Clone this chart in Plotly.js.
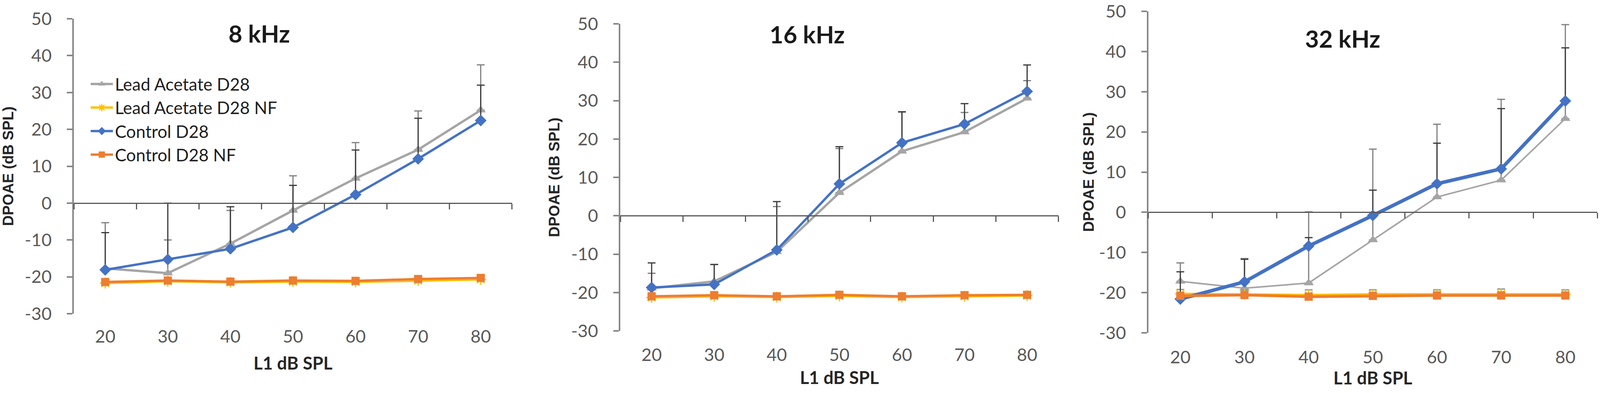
<!DOCTYPE html>
<html>
<head>
<meta charset="utf-8">
<script src="https://cdn.plot.ly/plotly-3.0.1.min.js"></script>
<style>body{margin:0;background:#fff;overflow:hidden}</style>
</head>
<body>
<div id="grafico"></div>
<script>
// niveles L1 (dB SPL)
var niveles = [20, 30, 40, 50, 60, 70, 80];
var yTicks = [-30, -20, -10, 0, 10, 20, 30, 40, 50];
var yEtiquetas = ['-30', '-20', '-10', '0', '10', '20', '30', '40', '50'];
var titulos = ['8 kHz', '16 kHz', '32 kHz'];
var nombres = ['Lead Acetate D28', 'Lead Acetate D28 NF', 'Control D28', 'Control D28 NF'];
var sinError = [0, 0, 0, 0, 0, 0, 0];

// 8 kHz
var plomo8 = [-17.7, -19.0, -11.0, -2.0, 6.7, 14.5, 25.2];
var plomo8Err = [12.4, 9.0, 9.0, 9.4, 9.7, 10.5, 12.3];
var plomoNF8 = [-21.7, -21.2, -21.5, -21.3, -21.4, -21.0, -20.7];
var control8 = [-18.1, -15.3, -12.4, -6.6, 2.3, 12.0, 22.4];
var control8Err = [10.1, 15.3, 11.4, 11.4, 12.1, 11.0, 9.6];
var controlNF8 = [-21.4, -21.0, -21.3, -21.0, -21.1, -20.6, -20.3];

// 16 kHz
var plomo16 = [-18.9, -17.1, -9.4, 6.0, 16.8, 21.8, 30.6];
var plomo16Err = [3.9, 4.4, 11.8, 11.5, 10.2, 5.1, 4.6];
var plomoNF16 = [-21.3, -21.0, -21.2, -20.9, -21.2, -21.0, -20.8];
var control16 = [-18.7, -17.9, -8.9, 8.3, 19.0, 23.9, 32.4];
var control16Err = [6.4, 5.2, 12.6, 9.7, 8.1, 5.3, 6.9];
var controlNF16 = [-21.0, -20.7, -21.0, -20.6, -21.0, -20.7, -20.6];

// 32 kHz
var plomo32 = [-17.2, -18.9, -17.6, -6.9, 3.8, 8.0, 23.3];
var plomo32Err = [4.6, 7.4, 17.7, 22.6, 18.1, 20.1, 23.4];
var plomoNF32 = [-20.3, -20.4, -20.6, -20.4, -20.4, -20.3, -20.4];
var plomoNF32Err = [1.1, 1.0, 1.3, 1.1, 1.1, 1.2, 1.1];
var control32 = [-21.6, -17.3, -8.4, -0.8, 7.1, 10.8, 27.7];
var control32Err = [6.8, 5.6, 2.1, 6.3, 10.1, 15.0, 13.2];
var controlNF32 = [-20.8, -20.6, -21.0, -20.8, -20.7, -20.7, -20.7];

// medidas pensadas para 4328x1006, se ajustan a la ventana real
var W0 = 4328, H0 = 1006;
var W = window.innerWidth || W0, H = window.innerHeight || H0;
var kx = W / W0, ky = H / H0;
function fs(n) { return Math.round(n * kx); }
var fuente = 'Lato, "Open Sans", sans-serif';

// caja de cada panel en px: izq, der, arriba(50), abajo(-30), centro etiquetas x, titulos
var cajas = [
  {x0: 200, x1: 1385, yt: 48, yb: 803, lab: 867, xst: 28, yst: 20, cx: 701, cy: 86},
  {x0: 1678, x1: 2863, yt: 61, yb: 847, lab: 914, xst: 18, yst: 20, cx: 2184, cy: 87},
  {x0: 3106, x1: 4321, yt: 29, yb: 852, lab: 920, xst: 12, yst: 2, cx: 3632, cy: 98}
];

function errores(arr, color) {
  if (!arr) return {visible: false};
  return {type: 'data', symmetric: false, array: arr, arrayminus: sinError,
    color: color, thickness: 3, width: fs(11)};
}

function panel(n, plomo, plomoErr, plomoNF, plomoNFErr, control, controlErr, controlNF, anchos) {
  var s = n === 1 ? '' : String(n);
  var base = {x: niveles, xaxis: 'x' + s, yaxis: 'y' + s, mode: 'lines+markers',
    showlegend: n === 1, hoverinfo: 'skip'};
  return [
    Object.assign({}, base, {y: plomo, name: nombres[0], legendgroup: 'a',
      line: {color: '#A5A5A5', width: anchos[0]},
      marker: {symbol: 'triangle-up', size: fs(24), color: '#A5A5A5'},
      error_y: errores(plomoErr, '#7f7f7f')}),
    Object.assign({}, base, {y: plomoNF, name: nombres[1], legendgroup: 'b',
      line: {color: '#FFC000', width: anchos[1]},
      marker: {symbol: 'asterisk-open', size: fs(24), color: '#FFC000', line: {color: '#FFC000', width: 3}},
      error_y: errores(plomoNFErr, '#8c8c8c')}),
    Object.assign({}, base, {y: control, name: nombres[2], legendgroup: 'c',
      line: {color: '#4472C4', width: anchos[2]},
      marker: {symbol: 'diamond', size: fs(24), color: '#4472C4'},
      error_y: errores(controlErr, '#3a3a3a')}),
    Object.assign({}, base, {y: controlNF, name: nombres[3], legendgroup: 'd',
      line: {color: '#ED7D31', width: anchos[3]},
      marker: {symbol: 'square', size: fs(22), color: '#ED7D31'}})
  ];
}

var data = []
  .concat(panel(1, plomo8, plomo8Err, plomoNF8, null, control8, control8Err, controlNF8, [6, 6, 6, 6]))
  .concat(panel(2, plomo16, plomo16Err, plomoNF16, null, control16, control16Err, controlNF16, [6, 6, 6, 6]))
  .concat(panel(3, plomo32, plomo32Err, plomoNF32, plomoNF32Err, control32, control32Err, controlNF32, [4, 6, 9, 7]));

var layout = {
  width: W, height: H,
  margin: {l: 0, r: 0, t: 0, b: 0},
  paper_bgcolor: '#fff', plot_bgcolor: 'rgba(0,0,0,0)',
  font: {family: fuente, color: '#595959'},
  legend: {x: 240 / W0, y: 1 - 180 / H0, xanchor: 'left', yanchor: 'top', itemwidth: fs(60),
    bgcolor: 'rgba(0,0,0,0)', font: {family: fuente, size: fs(47), color: '#1f1f1f'}, tracegroupgap: 0},
  annotations: []
};

cajas.forEach(function (c, i) {
  var s = i === 0 ? '' : String(i + 1);
  var yDom = [1 - c.yb / H0, 1 - c.yt / H0];
  var y0 = c.yt + (50 / 80) * (c.yb - c.yt);
  layout['xaxis' + s] = {
    domain: [c.x0 / W0, c.x1 / W0], anchor: 'free', position: 1 - y0 / H0,
    range: [15, 85], tickvals: niveles, ticks: '',
    showline: true, linecolor: '#595959', linewidth: 3,
    showgrid: false, zeroline: false,
    minor: {ticks: 'outside', tick0: 15, dtick: 10, ticklen: 14, tickwidth: 3, tickcolor: '#595959', showgrid: false},
    ticklabelstandoff: Math.round((c.lab - y0) * ky - 46),
    ticklabeloverflow: 'allow',
    tickfont: {family: fuente, size: fs(48), color: '#595959'},
    title: {text: 'L1 dB SPL', standoff: c.xst, font: {family: fuente, size: fs(48), color: '#262626', weight: 'bold'}}
  };
  layout['yaxis' + s] = {
    domain: yDom, anchor: 'x' + s, range: [-30, 50],
    tickvals: yTicks, ticktext: yEtiquetas,
    ticks: 'outside', ticklen: fs(15), tickwidth: 4, tickcolor: '#868686',
    showline: true, linecolor: '#868686', linewidth: 4,
    showgrid: false, zeroline: false, ticklabelstandoff: fs(32),
    ticklabeloverflow: 'allow',
    tickfont: {family: fuente, size: fs(48), color: '#595959'},
    title: {text: 'DPOAE (dB SPL)', standoff: fs(c.yst),
      font: {family: '"Liberation Sans", Arial, sans-serif', size: fs(40), color: '#262626', weight: 'bold'}}
  };
  layout.annotations.push({text: '<b>' + titulos[i] + '</b>', xref: 'paper', yref: 'paper',
    x: c.cx / W0, y: 1 - c.cy / H0, xanchor: 'center', yanchor: 'middle', showarrow: false,
    font: {family: fuente, size: fs(64), color: '#1a1a1a'}});
});

Plotly.newPlot('grafico', data, layout, {staticPlot: true});
</script>
</body>
</html>
